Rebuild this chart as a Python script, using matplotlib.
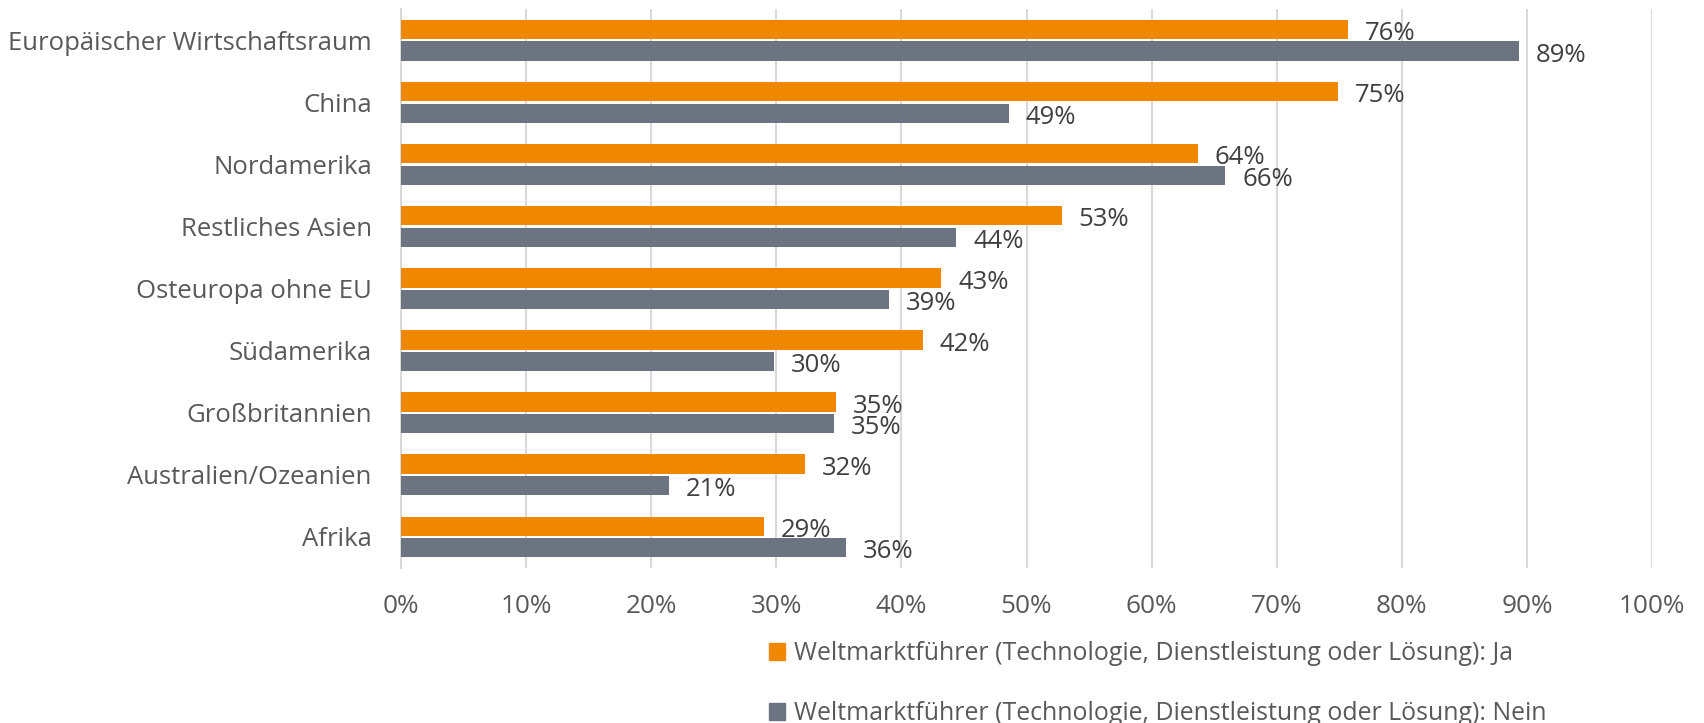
import matplotlib
matplotlib.use("Agg")
import matplotlib.pyplot as plt
from matplotlib.patches import Patch
from matplotlib.transforms import offset_copy
import numpy as np

plt.rcParams['font.family'] = ['Open Sans', 'DejaVu Sans']

categories = ["Europäischer Wirtschaftsraum", "China", "Nordamerika", "Restliches Asien",
              "Osteuropa ohne EU", "Südamerika", "Großbritannien", "Australien/Ozeanien", "Afrika"]
ja_values = [75.7, 74.9, 63.7, 52.8, 43.2, 41.7, 34.8, 32.3, 29.0]
nein_values = [89.4, 48.6, 65.9, 44.4, 39.0, 29.8, 34.6, 21.4, 35.6]
series_names = ["Weltmarktführer (Technologie, Dienstleistung oder Lösung): Ja",
                "Weltmarktführer (Technologie, Dienstleistung oder Lösung): Nein"]
x_ticks = [0, 10, 20, 30, 40, 50, 60, 70, 80, 90, 100]

c_ja = "#F08700"
c_nein = "#6B7480"
grid_c = "#D9D9D9"
txt_c = "#595959"
lbl_c = "#404040"

W, H = 1704, 723
fig = plt.figure(figsize=(W / 100, H / 100), dpi=100)
left, right, top, bottom = 401, 1652, 9.3, 568
ax = fig.add_axes([left / W, 1 - bottom / H, (right - left) / W, (bottom - top) / H])

y = np.arange(len(categories))
bh = 0.311
off = 0.173
ax.barh(y - off, ja_values, height=bh, color=c_ja, zorder=3)
ax.barh(y + off, nein_values, height=bh, color=c_nein, zorder=3)

ax.set_xlim(0, 100)
ax.set_ylim(len(categories) - 0.5, -0.5)
ax.set_xticks(x_ticks)
ax.set_xticklabels([f"{t}%" for t in x_ticks], fontsize=18.8, color=txt_c)
ax.set_yticks(y)
ax.set_yticklabels(categories, fontsize=18.5, color=txt_c)
ax.tick_params(axis='both', length=0)
ax.tick_params(axis='y', pad=21)
ax.tick_params(axis='x', pad=19)
ax.xaxis.grid(True, color=grid_c, linewidth=1.5, zorder=0)
for s in ["top", "right", "bottom"]:
    ax.spines[s].set_visible(False)
ax.spines["left"].set_color(grid_c)
ax.spines["left"].set_linewidth(1.5)

tr = offset_copy(ax.transData, fig=fig, x=12, y=-3, units='points')
for vals, yy in ((ja_values, y - off), (nein_values, y + off)):
    for v, yi in zip(vals, yy):
        ax.text(v, yi, f"{round(v)}%", transform=tr, ha='left', va='center',
                fontsize=18.5, color=lbl_c)

handles = [Patch(color=c_ja), Patch(color=c_nein)]
fig.legend(handles, series_names, loc='upper left',
           bbox_to_anchor=(769 / W, 1 - 641 / H), frameon=False,
           fontsize=17.9, labelcolor=txt_c, handlelength=0.65, handleheight=0.65,
           handletextpad=0.35, labelspacing=1.42, borderpad=0, borderaxespad=0)

fig.savefig("out.png", dpi=100)
